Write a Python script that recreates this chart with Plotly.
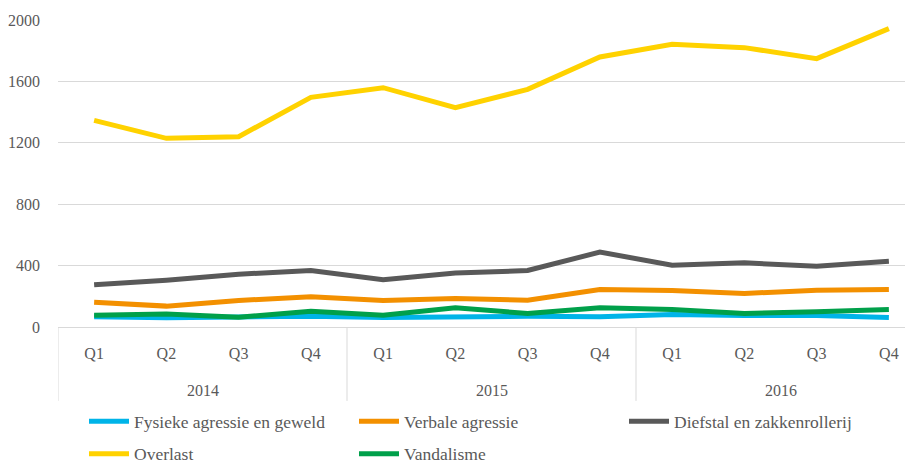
import plotly.graph_objects as go

years = ["2014", "2015", "2016"]
quarters = ["Q1", "Q2", "Q3", "Q4"]
categories = [f"{y} {q}" for y in years for q in quarters]
quarter_labels = [q for y in years for q in quarters]

fysieke = [66, 60, 65, 70, 62, 70, 70, 66, 81, 75, 75, 62]
verbale = [162, 136, 173, 197, 173, 186, 175, 244, 238, 218, 240, 244]
diefstal = [275, 305, 344, 368, 308, 351, 368, 488, 403, 418, 396, 429]
overlast = [1346, 1229, 1240, 1496, 1559, 1429, 1548, 1759, 1842, 1820, 1748, 1944]
vandalisme = [77, 84, 64, 103, 77, 125, 88, 125, 114, 88, 99, 114]

series = [
    ("Fysieke agressie en geweld", fysieke, "#00B4E8", "legend"),
    ("Verbale agressie", verbale, "#F39000", "legend"),
    ("Diefstal en zakkenrollerij", diefstal, "#595959", "legend"),
    ("Overlast", overlast, "#FFD200", "legend2"),
    ("Vandalisme", vandalisme, "#00A04A", "legend2"),
]

FONT = "Liberation Serif, DejaVu Serif, serif"
TXT = "#595959"

fig = go.Figure()
for name, vals, color, leg in series:
    fig.add_trace(go.Scatter(
        x=categories, y=vals, name=name, mode="lines",
        line=dict(color=color, width=5),
        legend=leg, cliponaxis=False,
    ))

W, H = 905, 465
ml, mt, mb = 58, 20, 137.5
plot_h = H - mt - mb
plot_w = W - ml
cat_w = 72.25
span = plot_w / cat_w

shapes = []
annotations = []
for i, y in enumerate(years):
    annotations.append(dict(
        x=i * 4 + 1.5, xref="x", y=-64 / plot_h, yref="paper",
        text=y, showarrow=False, font=dict(family=FONT, size=16, color=TXT),
        xanchor="center", yanchor="middle",
    ))
    shapes.append(dict(
        type="line", xref="x", yref="paper",
        x0=i * 4 - 0.5, x1=i * 4 - 0.5, y0=0, y1=-74 / plot_h,
        line=dict(color="#D9D9D9", width=1),
    ))

legend_common = dict(
    orientation="h", xanchor="left", yanchor="middle",
    entrywidth=215, entrywidthmode="pixels", itemwidth=40,
    font=dict(family=FONT, size=17.5, color=TXT), bgcolor="rgba(0,0,0,0)",
)

fig.update_layout(
    width=W, height=H,
    margin=dict(l=ml, r=0, t=mt, b=mb, autoexpand=False),
    paper_bgcolor="white", plot_bgcolor="white",
    font=dict(family=FONT, color=TXT, size=16),
    xaxis=dict(
        type="category", range=[-0.5, -0.5 + span], automargin=False,
        tickvals=categories, ticktext=quarter_labels,
        showgrid=False, showline=True, linecolor="#D9D9D9", linewidth=1,
        ticks="", ticklabelstandoff=12,
        tickfont=dict(family=FONT, size=16, color=TXT),
    ),
    yaxis=dict(
        range=[0, 2000], tickvals=[0, 400, 800, 1200, 1600, 2000],
        automargin=False,
        showgrid=True, gridcolor="#D9D9D9", gridwidth=1,
        zeroline=False, showline=False, ticks="",
        ticklabelstandoff=17,
        tickfont=dict(family=FONT, size=16, color=TXT),
    ),
    legend=dict(legend_common, x=(84 - ml) / plot_w, y=(327.5 - 422) / plot_h),
    legend2=dict(legend_common, x=(84 - ml) / plot_w, y=(327.5 - 454.5) / plot_h),
    shapes=shapes,
    annotations=annotations,
)

fig.write_html(
    "out.html",
    config={"displayModeBar": False},
    post_script="document.body.style.margin='0';document.body.style.overflow='hidden';",
)
